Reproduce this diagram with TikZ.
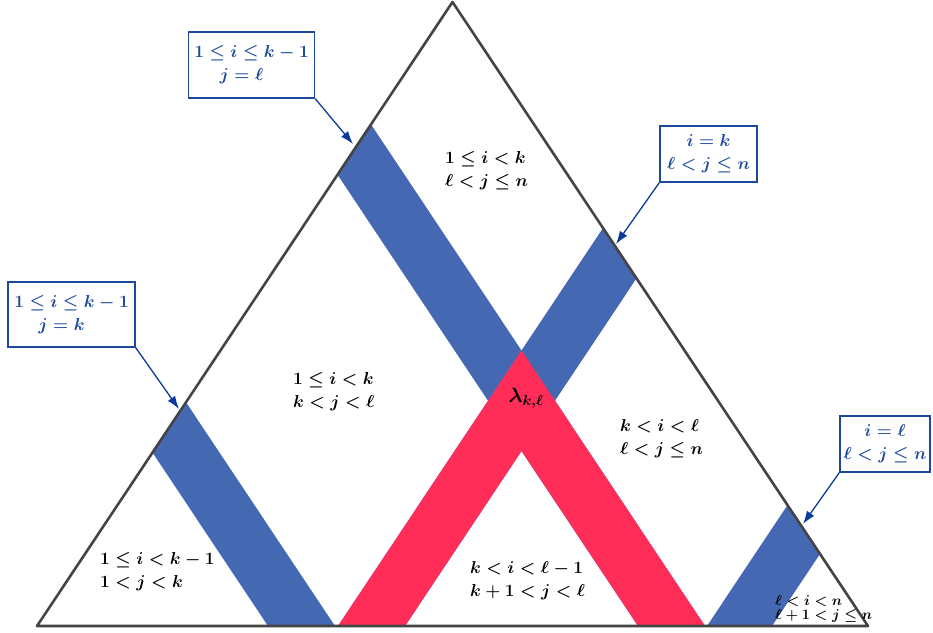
\documentclass[tikz,border=0pt]{standalone}
\usepackage{amsmath}
\usetikzlibrary{calc,arrows.meta}
\definecolor{bandblue}{RGB}{68,105,178}
\definecolor{bandpink}{RGB}{255,45,88}
\definecolor{boxblue}{RGB}{28,72,158}
\definecolor{arrowblue}{RGB}{12,58,156}
\definecolor{edgegray}{RGB}{68,68,68}
\tikzset{
  regionlabel/.style={font=\fontsize{17}{23}\selectfont\boldmath, align=left, inner sep=0pt, anchor=west},
  smalllabel/.style={font=\fontsize{14.5}{14}\selectfont\boldmath, align=left, inner sep=0pt, anchor=west},
  callout/.style={draw=boxblue, line width=1.6pt, text=boxblue, fill=white,
    font=\fontsize{17}{23}\selectfont\boldmath, align=center, inner sep=0pt},
  pointer/.style={draw=arrowblue, line width=1.3pt, -{Latex[length=13pt,width=9pt]}},
  tri/.style={draw=edgegray, line width=2.6pt, line join=round},
}
\begin{document}
\begin{tikzpicture}[x=1pt,y=-1pt]
\useasboundingbox (0,0) rectangle (933,632);
% triangle corners
\coordinate (A) at (37,626);
\coordinate (B) at (868,626);
\coordinate (C) at (452.5,2);
% band base points
\coordinate (a1) at (268,626); \coordinate (a2) at (335,626);
\coordinate (b1) at (338,626); \coordinate (b2) at (405,626);
\coordinate (c1) at (638,626); \coordinate (c2) at (705,626);
\coordinate (d1) at (707,626); \coordinate (d2) at (772,626);
\coordinate (a1u) at ($(a1)+(-415.5,-624)$); \coordinate (a2u) at ($(a2)+(-415.5,-624)$);
\coordinate (c1u) at ($(c1)+(-415.5,-624)$); \coordinate (c2u) at ($(c2)+(-415.5,-624)$);
\coordinate (b1u) at ($(b1)+(415.5,-624)$); \coordinate (b2u) at ($(b2)+(415.5,-624)$);
\coordinate (d1u) at ($(d1)+(415.5,-624)$); \coordinate (d2u) at ($(d2)+(415.5,-624)$);
\coordinate (T) at (intersection of c2--c2u and b1--b1u);
\coordinate (D) at (intersection of c1--c1u and b2--b2u);
\begin{scope}
  \clip (A) -- (B) -- (C) -- cycle;
  \fill[bandblue] (a1) -- (a2) -- (a2u) -- (a1u) -- cycle;
  \fill[bandblue] (c1) -- (c2) -- (c2u) -- (c1u) -- cycle;
  \fill[bandblue] (b1) -- (b2) -- (b2u) -- (b1u) -- cycle;
  \fill[bandblue] (d1) -- (d2) -- (d2u) -- (d1u) -- cycle;
  \fill[bandpink] (T) -- (c2) -- (c1) -- (D) -- (b2) -- (b1) -- cycle;
\end{scope}
\draw[tri] (A) -- (B) -- (C) -- cycle;
% region labels
\node[regionlabel] (r1) at (445,171) {$1\leq i<k$\\$\ell<j\leq n$};
\node[regionlabel] (r2) at (293,392) {$1\leq i<k$\\$k<j<\ell$};
\node[regionlabel] (r3) at (620,439) {$k<i<\ell$\\$\ell<j\leq n$};
\node[regionlabel] (r4) at (100,572) {$1\leq i<k-1$\\$1<j<k$};
\node[regionlabel] (r5) at (470,581) {$k<i<\ell-1$\\$k+1<j<\ell$};
\node[smalllabel] (r6) at (775,609) {$\ell<i<n$\\$\ell+1<j\leq n$};
\node[font=\fontsize{22}{26}\selectfont\boldmath, inner sep=0pt] (lam) at (526,398) {$\lambda_{k,\ell}$};
% callouts
\node[callout, minimum width=126pt, minimum height=66pt] (q1) at (251.5,65)
  {$1\leq i\leq k-1$\\$j=\ell$\hspace*{20pt}};
\node[callout, minimum width=97pt, minimum height=56pt] (q2) at (708.5,154)
  {$i=k$\\$\ell<j\leq n$};
\node[callout, minimum width=127pt, minimum height=65pt] (q3) at (71.5,314.5)
  {$1\leq i\leq k-1$\\$j=k$\hspace*{20pt}};
\node[callout, minimum width=90pt, minimum height=56pt] (q4) at (885,444)
  {$i=\ell$\\$\ell<j\leq n$};
\coordinate (p1) at (353,144);
\coordinate (p2) at (616,244);
\coordinate (p3) at (179,409);
\coordinate (p4) at (803,524);
\draw[pointer] (q1.south east) -- (p1);
\draw[pointer] (q2.south west) -- (p2);
\draw[pointer] (q3.south east) -- (p3);
\draw[pointer] (q4.south west) -- (p4);
\end{tikzpicture}
\end{document}
